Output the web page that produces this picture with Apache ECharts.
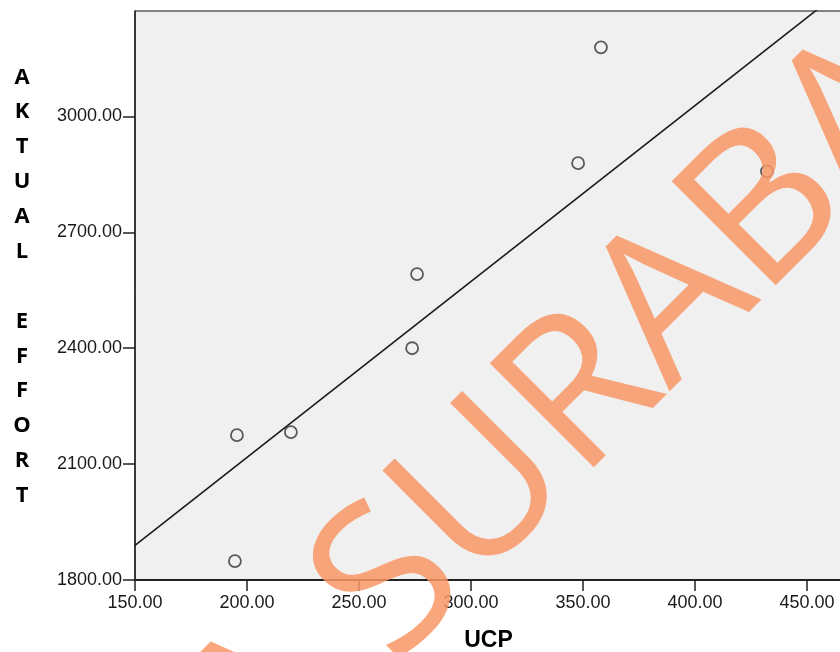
<!DOCTYPE html>
<html>
<head>
<meta charset="utf-8">
<script src="https://cdn.jsdelivr.net/npm/echarts@6/dist/echarts.min.js"></script>
<style>
  html, body { margin: 0; padding: 0; background: #fff; }
  #chart { width: 840px; height: 652px; }
</style>
</head>
<body>
<div id="chart"></div>
<script>
const ucp = [195.5, 194.6, 219.6, 273.7, 275.9, 347.8, 358.0, 432.1]
const aktualEffort = [2175, 1849, 2183, 2400, 2592, 2879, 3179, 2858]
const xTicks = [150, 200, 250, 300, 350, 400, 450]
const yTicks = [1800, 2100, 2400, 2700, 3000]

const points = ucp.map((x, i) => [x, aktualEffort[i]])

// least squares fit line
const n = ucp.length
const mx = ucp.reduce((a, b) => a + b, 0) / n
const my = aktualEffort.reduce((a, b) => a + b, 0) / n
let sxy = 0, sxx = 0
for (let i = 0; i < n; i++) {
  sxy += (ucp[i] - mx) * (aktualEffort[i] - my)
  sxx += (ucp[i] - mx) * (ucp[i] - mx)
}
const slope = sxy / sxx
const intercept = my - slope * mx
const fitLine = [150, 470].map(x => [x, intercept + slope * x])

const chart = echarts.init(document.getElementById('chart'))
const fmt = v => v.toFixed(2)

chart.setOption({
  animation: false,
  backgroundColor: '#fff',
  grid: {
    left: 135,
    top: 11,
    right: -2,
    bottom: 72,
    outerBoundsMode: 'none',
    show: true,
    backgroundColor: '#f0f0f0',
    borderColor: '#111',
    borderWidth: 1
  },
  xAxis: {
    type: 'value',
    min: 150,
    max: 465.6,
    splitLine: { show: false },
    axisLine: { onZero: false, lineStyle: { color: '#222', width: 2 } },
    axisTick: { length: 11, customValues: xTicks, lineStyle: { color: '#222', width: 1.5 } },
    axisLabel: {
      customValues: xTicks,
      formatter: fmt,
      margin: 14,
      color: '#1a1a1a',
      fontFamily: 'Liberation Sans',
      fontSize: 18
    },
    name: 'UCP',
    nameLocation: 'middle',
    nameGap: 49,
    nameTextStyle: {
      fontFamily: 'Liberation Sans',
      fontWeight: 'bold',
      fontSize: 23,
      color: '#000'
    }
  },
  yAxis: {
    type: 'value',
    min: 1800,
    max: 3273,
    splitLine: { show: false },
    axisLine: { onZero: false, lineStyle: { color: '#222', width: 1.5 } },
    axisTick: { length: 12, customValues: yTicks, lineStyle: { color: '#222', width: 1.5 } },
    axisLabel: {
      customValues: yTicks,
      formatter: fmt,
      margin: 13,
      color: '#1a1a1a',
      fontFamily: 'Liberation Sans',
      fontSize: 18
    }
  },
  graphic: [
    {
      type: 'text',
      x: 22,
      y: 286.5,
      z: 10,
      style: {
        text: 'A\nK\nT\nU\nA\nL\n\nE\nF\nF\nO\nR\nT',
        fontFamily: 'Open Sans',
        fontWeight: 'bold',
        fontSize: 22,
        lineHeight: 34.87,
        fill: '#000',
        align: 'center',
        verticalAlign: 'middle'
      }
    },
    {
      // watermark
      type: 'text',
      x: 222,
      y: 756,
      rotation: 45 * Math.PI / 180,
      z: 100,
      silent: true,
      style: {
        text: 'A SURABAYA',
        fontFamily: 'Open Sans',
        fontSize: 206,
        fill: 'rgba(248,151,101,0.85)',
        align: 'left',
        verticalAlign: 'middle'
      }
    }
  ],
  series: [
    {
      type: 'line',
      data: fitLine,
      symbol: 'none',
      clip: true,
      lineStyle: { color: '#1a1a1a', width: 1.6 },
      z: 2
    },
    {
      type: 'scatter',
      data: points,
      symbol: 'circle',
      symbolSize: 12,
      itemStyle: { color: 'transparent', borderColor: '#333', borderWidth: 1.8 },
      z: 3
    }
  ]
})
</script>
</body>
</html>
